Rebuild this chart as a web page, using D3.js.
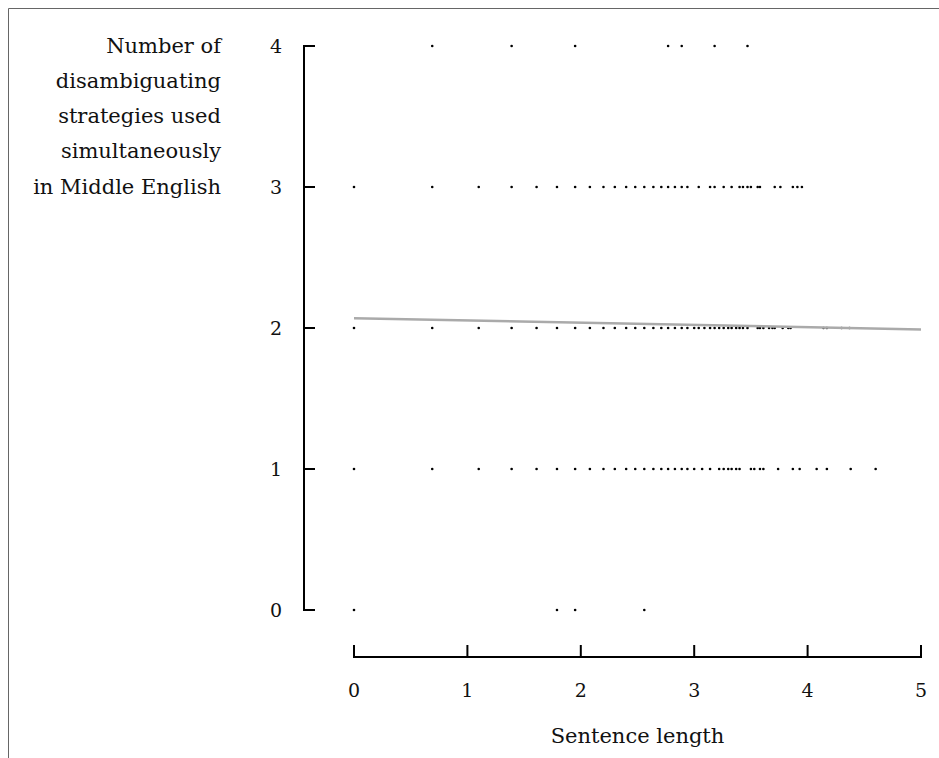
<!DOCTYPE html>
<html><head><meta charset="utf-8">
<script src="https://cdn.jsdelivr.net/npm/d3@7"></script>
<style>
html,body{margin:0;padding:0;background:#fff;}
svg{display:block;}
text{font-family:"DejaVu Serif","Liberation Serif",serif;fill:#111;}
</style></head>
<body>
<svg id="chart" width="939" height="758"></svg>
<script>
// log sentence length values per number of strategies
const row4 = [0.69, 1.39, 1.95, 2.77, 2.89, 3.18, 3.47];
const row3 = [0, 0.69, 1.10, 1.39, 1.61, 1.79, 1.95, 2.08, 2.20, 2.30, 2.40, 2.48, 2.56, 2.64, 2.71, 2.77, 2.83, 2.89, 2.94, 3.04, 3.14, 3.18, 3.26, 3.33, 3.40, 3.43, 3.47, 3.50, 3.56, 3.58, 3.71, 3.76, 3.87, 3.91, 3.95];
const row2 = [0, 0.69, 1.10, 1.39, 1.61, 1.79, 1.95, 2.08, 2.20, 2.30, 2.40, 2.48, 2.56, 2.64, 2.71, 2.77, 2.83, 2.89, 2.94, 3.00, 3.04, 3.09, 3.14, 3.18, 3.22, 3.26, 3.30, 3.33, 3.37, 3.40, 3.43, 3.47, 3.56, 3.58, 3.61, 3.66, 3.69, 3.71, 3.78, 3.83, 3.85, 4.14, 4.17, 4.30, 4.37];
const row1 = [0, 0.69, 1.10, 1.39, 1.61, 1.79, 1.95, 2.08, 2.20, 2.30, 2.40, 2.48, 2.56, 2.64, 2.71, 2.77, 2.83, 2.89, 2.94, 3.00, 3.07, 3.14, 3.22, 3.26, 3.30, 3.33, 3.37, 3.40, 3.50, 3.53, 3.58, 3.61, 3.74, 3.87, 3.93, 4.08, 4.17, 4.38, 4.60];
const row0 = [0, 1.79, 1.95, 2.56];
const rowLevels = [0, 1, 2, 3, 4];
const trend = [{x: 0, y: 2.07}, {x: 5, y: 1.99}];
const xTicks = [0, 1, 2, 3, 4, 5];
const yTicks = [0, 1, 2, 3, 4];
const yLabelLines = ["Number of", "disambiguating", "strategies used", "simultaneously", "in Middle English"];
const xLabel = "Sentence length";

const rows = [row0, row1, row2, row3, row4];
const points = [];
rows.forEach((r, i) => r.forEach(v => points.push({x: v, y: rowLevels[i]})));

const svg = d3.select("#chart");

// frame
svg.append("line").attr("x1", 8.5).attr("x2", 939).attr("y1", 8.5).attr("y2", 8.5).attr("stroke", "#666").attr("stroke-width", 1);
svg.append("line").attr("x1", 8.5).attr("x2", 8.5).attr("y1", 8.5).attr("y2", 758).attr("stroke", "#666").attr("stroke-width", 1);

const x = d3.scaleLinear().domain([0, 5]).range([354, 921]);
const y = d3.scaleLinear().domain([0, 4]).range([610, 46]);

// y axis
const yAxisX = 304;
const ya = svg.append("g");
ya.append("line").attr("x1", yAxisX).attr("x2", yAxisX).attr("y1", y(4) - 1).attr("y2", y(0) + 1)
  .attr("stroke", "#000").attr("stroke-width", 2);
ya.selectAll(".yt").data(yTicks).join("line")
  .attr("x1", yAxisX).attr("x2", yAxisX + 11).attr("y1", d => y(d)).attr("y2", d => y(d))
  .attr("stroke", "#000").attr("stroke-width", 2);
ya.selectAll(".yl").data(yTicks).join("text")
  .attr("x", 276).attr("y", d => y(d) + 7).attr("text-anchor", "middle")
  .attr("font-size", 19).text(d => d);

// y label
svg.append("g").selectAll("text").data(yLabelLines).join("text")
  .attr("x", 221).attr("y", (d, i) => y(4 - i * 0.25) + 6.5)
  .attr("text-anchor", "end").attr("font-size", 21).text(d => d);

// x axis
const xAxisY = 657;
const xa = svg.append("g");
xa.append("line").attr("x1", x(0) - 1).attr("x2", x(5) + 1).attr("y1", xAxisY).attr("y2", xAxisY)
  .attr("stroke", "#000").attr("stroke-width", 2);
xa.selectAll(".xt").data(xTicks).join("line")
  .attr("x1", d => x(d)).attr("x2", d => x(d)).attr("y1", xAxisY).attr("y2", xAxisY - 12)
  .attr("stroke", "#000").attr("stroke-width", 2);
xa.selectAll(".xl").data(xTicks).join("text")
  .attr("x", d => x(d)).attr("y", 697).attr("text-anchor", "middle")
  .attr("font-size", 19).text(d => d);
svg.append("text").attr("x", (x(0) + x(5)) / 2).attr("y", 743).attr("text-anchor", "middle")
  .attr("font-size", 21).text(xLabel);

// points
svg.append("g").selectAll("circle").data(points).join("circle")
  .attr("cx", d => x(d.x)).attr("cy", d => y(d.y)).attr("r", 1.3).attr("fill", "#000");

// trend line
svg.append("path").datum(trend)
  .attr("d", d3.line().x(d => x(d.x)).y(d => y(d.y)))
  .attr("stroke", "#aaa").attr("stroke-width", 2.5).attr("fill", "none");
</script>
</body></html>
